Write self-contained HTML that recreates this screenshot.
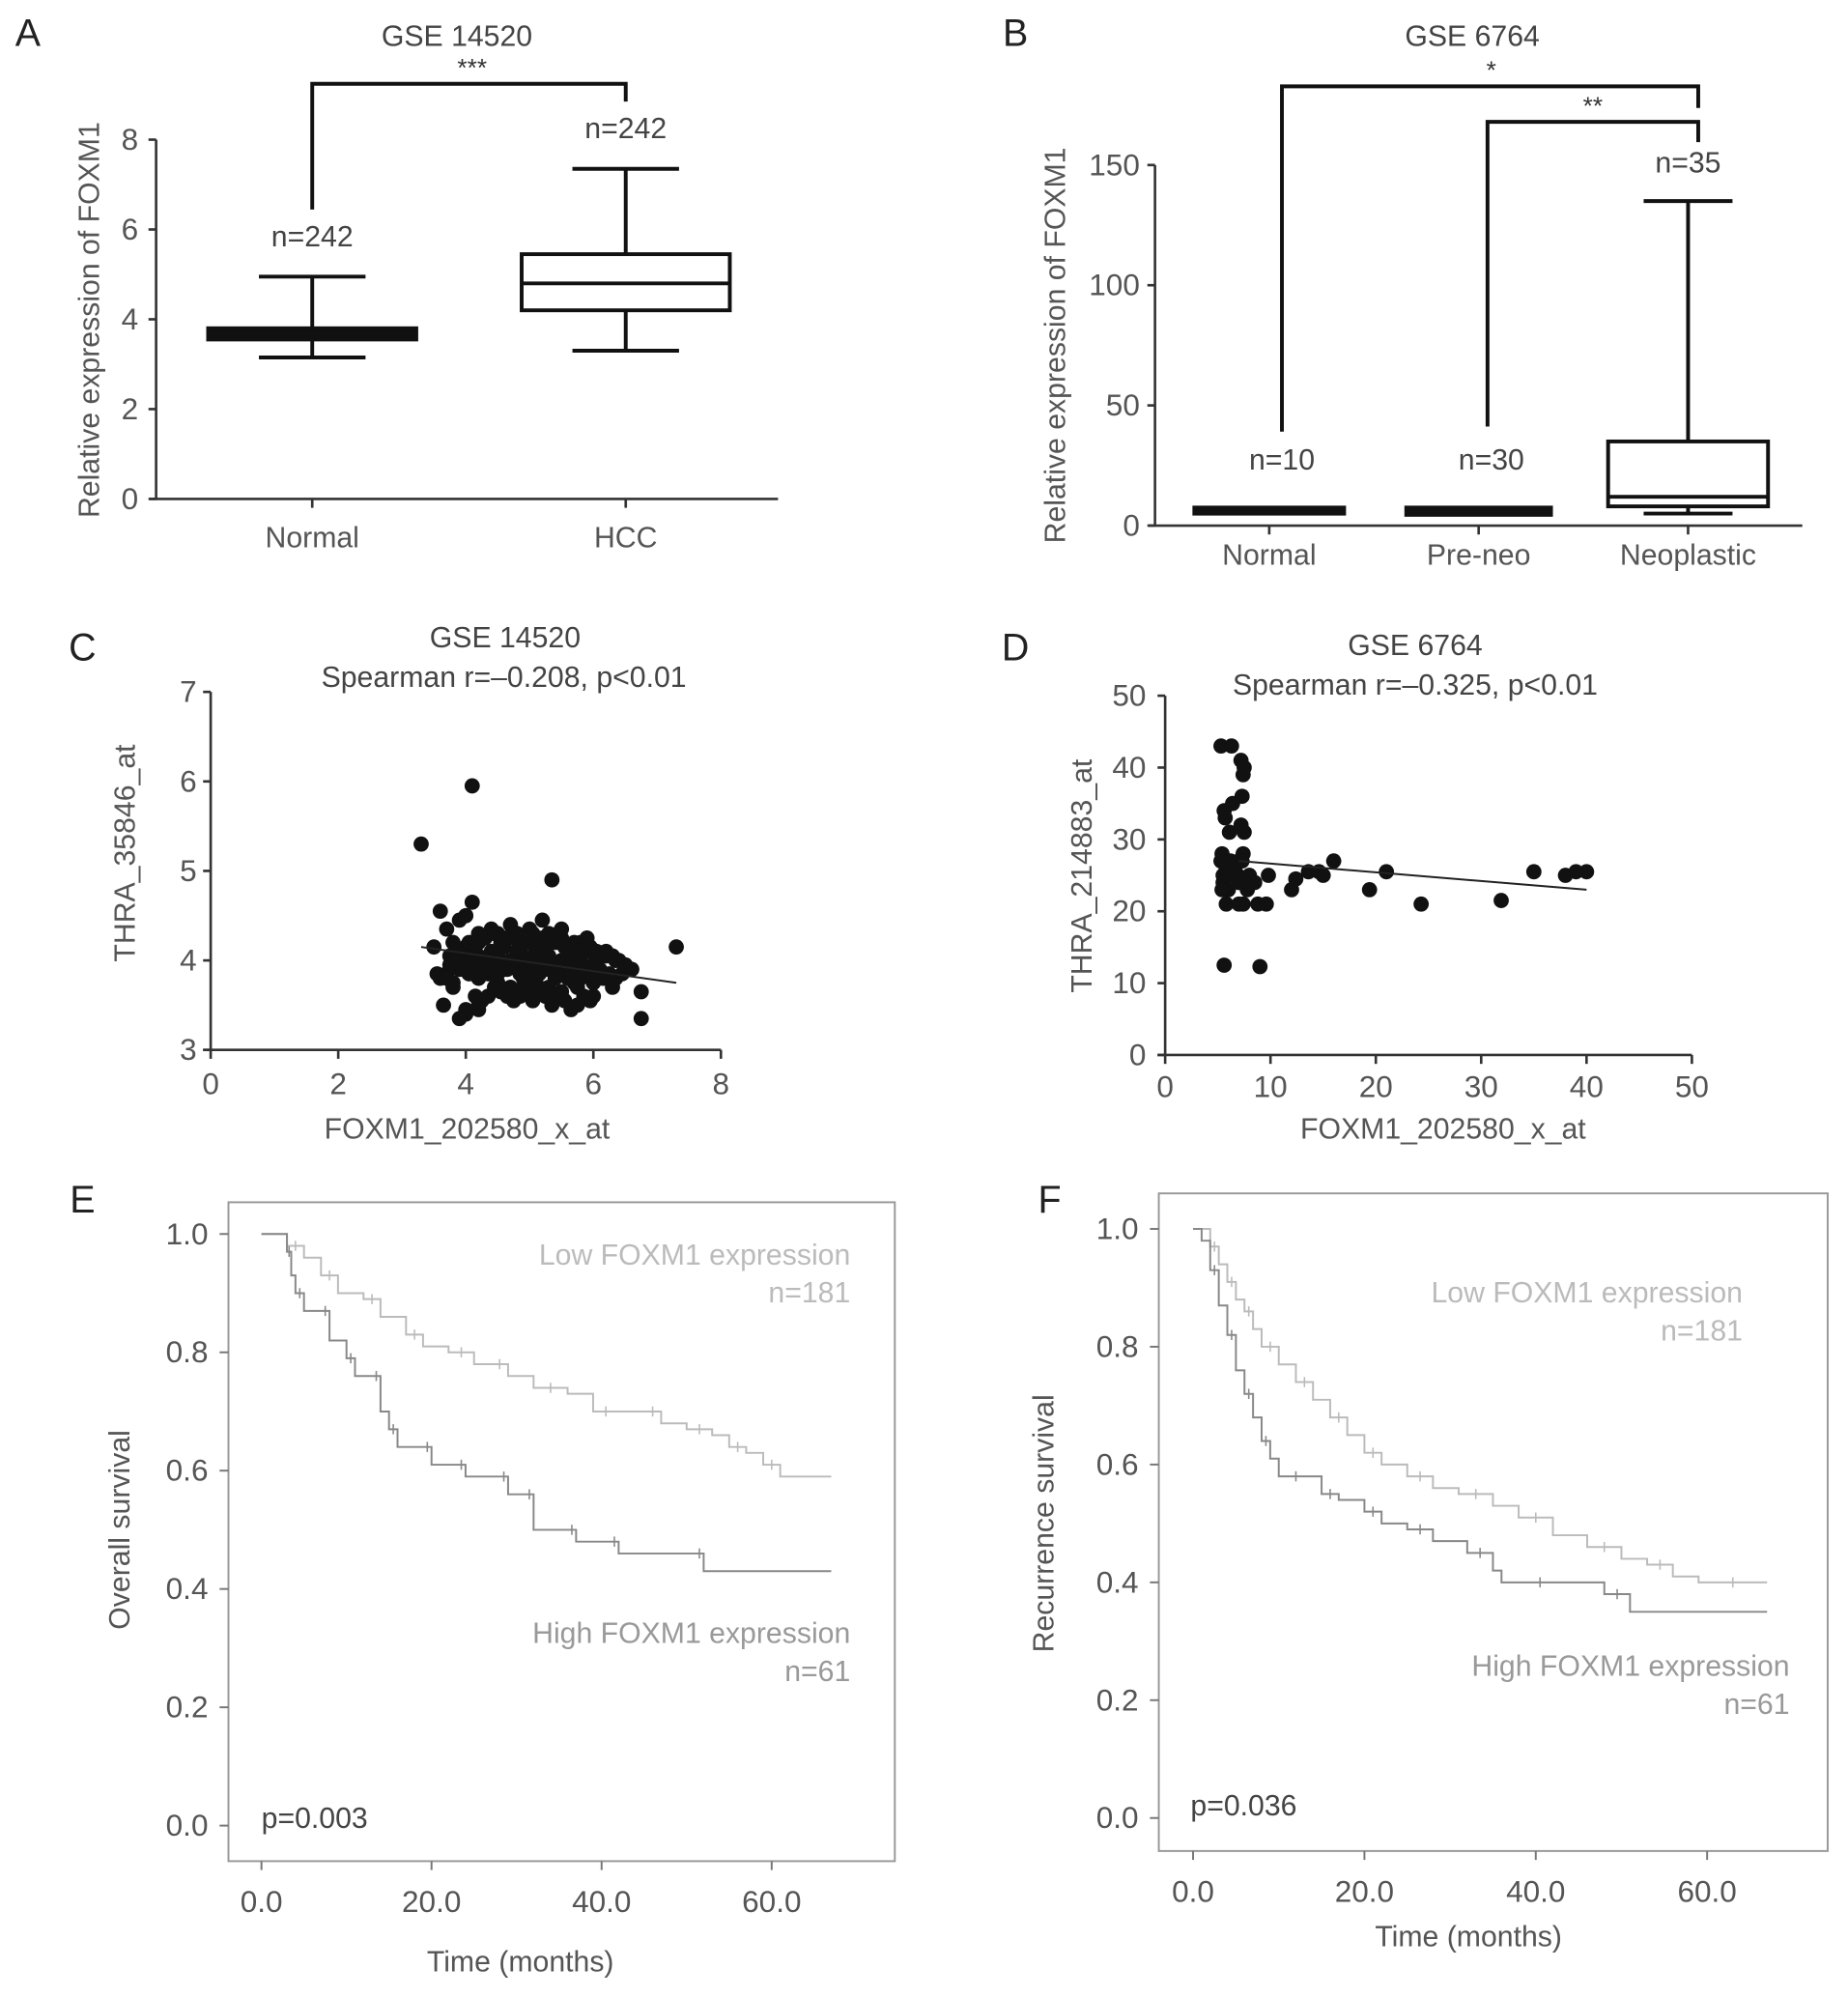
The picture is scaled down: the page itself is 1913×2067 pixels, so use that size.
<!DOCTYPE html>
<html><head><meta charset="utf-8"><style>
html,body{margin:0;padding:0;background:#fff}
svg{display:block}
text{font-family:"Liberation Sans",Arial,sans-serif}
</style></head><body>
<svg id="fig" width="1913" height="2067" viewBox="0 0 1456 1573" preserveAspectRatio="none" xmlns="http://www.w3.org/2000/svg"></svg>
<script>
// ---- Panel A data ----
const aCats = ["Normal","HCC"];
const aN = ["n=242","n=242"];
const aMin = [3.15,3.3], aQ1=[3.55,4.2], aMed=[3.68,4.8], aQ3=[3.8,5.45], aMax=[4.95,7.35];
const aTicks = [0,2,4,6,8];
// ---- Panel B data ----
const bCats = ["Normal","Pre-neo","Neoplastic"];
const bN = ["n=10","n=30","n=35"];
const bMin=[5.5,5,5], bQ1=[5.5,5,8], bMed=[6.5,6,12], bQ3=[7.5,7,35], bMax=[7.5,7.5,135];
const bTicks=[0,50,100,150];
// ---- Panel C data ----
const cTicksX=[0,2,4,6,8], cTicksY=[3,4,5,6,7];
const cX=[3.3,4.1,5.35,7.3,3.5,3.6,3.7,3.8,3.9,4.0,4.1,4.2,4.3,4.4,4.5,4.6,4.7,4.8,4.9,5.0,5.1,5.2,5.3,5.4,5.5,5.6,5.7,5.8,5.9,6.0,6.1,6.2,6.3,6.4,6.5,6.6,6.75,6.75,3.6,3.7,3.8,3.9,4.0,4.1,4.2,4.3,4.4,4.5,4.6,4.7,4.8,4.9,5.0,5.1,5.2,5.3,5.4,5.5,5.6,5.7,5.8,5.9,6.0,6.1,6.2,6.3,3.75,3.85,4.0,4.1,4.2,4.3,4.4,4.5,4.6,4.7,4.8,4.9,5.0,5.1,5.2,5.3,5.4,5.5,5.6,5.7,5.8,5.9,6.0,6.1,3.9,4.0,4.15,4.25,4.35,4.45,4.55,4.65,4.75,4.85,4.95,5.05,5.15,5.25,5.35,5.45,5.55,5.65,5.75,5.85,5.95,4.0,4.2,4.4,4.6,4.8,5.0,5.2,5.4,5.6,5.8,6.0,4.05,4.35,4.55,4.75,5.05,5.25,5.5,5.85,5.9,4.1,4.0,3.9,4.2,5.15,
3.55,3.65,3.75,3.85,3.95,4.05,4.15,4.25,4.35,4.45,4.55,4.65,4.75,4.85,4.95,5.05,5.15,5.25,5.35,5.45,5.55,5.65,5.75,5.85,5.95,6.05,6.15,6.25,6.35,6.45,3.7,3.8,3.95,4.05,4.2,4.3,4.45,4.55,4.7,4.8,4.95,5.05,5.2,5.3,5.45,5.55,5.7,5.8,5.95,6.05,6.2,6.35,6.5,6.6,4.25,4.5,4.75,5.0,5.25,5.5,5.75,6.0,4.6,4.9,5.2,5.5];
const cY=[5.3,5.95,4.9,4.15,4.15,4.55,4.35,4.2,4.45,4.5,4.65,4.3,4.25,4.35,4.3,4.25,4.4,4.3,4.2,4.35,4.25,4.15,4.3,4.2,4.25,4.15,4.0,4.2,4.25,4.1,4.05,4.1,4.05,4.0,3.95,3.9,3.65,3.35,3.8,3.85,3.7,3.9,3.95,4.0,3.8,3.9,3.85,3.75,3.9,3.7,3.95,3.8,3.85,3.75,3.9,3.7,3.8,3.85,3.8,3.75,3.8,3.9,3.75,3.85,3.8,3.7,4.05,4.1,4.15,4.1,4.05,4.0,4.1,4.05,4.15,4.0,4.1,4.05,4.0,4.1,4.0,4.05,3.95,4.0,4.05,3.95,4.0,3.9,3.95,3.9,3.95,3.9,3.6,3.55,3.6,3.7,3.65,3.6,3.55,3.6,3.65,3.55,3.65,3.6,3.5,3.6,3.55,3.45,3.5,3.6,3.55,3.45,3.5,4.0,3.95,3.95,4.0,4.0,3.9,3.95,3.9,3.9,3.85,3.85,4.2,4.25,4.2,4.15,4.2,4.15,4.1,4.2,3.4,3.35,3.45,3.65,3.85,3.5,
3.95,4.05,3.9,4.0,3.85,3.9,3.95,3.85,3.95,3.9,3.95,3.85,3.9,3.95,3.85,3.9,3.95,3.85,3.9,3.85,3.95,3.9,3.85,3.9,3.8,3.85,3.8,3.85,3.8,3.75,4.1,4.2,4.2,4.25,4.3,4.2,4.25,4.3,4.2,4.3,4.25,4.2,4.3,4.15,4.2,4.1,4.15,4.1,4.05,4.0,3.95,3.9,3.9,3.85,3.65,3.7,3.6,3.65,3.7,3.6,3.65,3.7,4.45,4.35,4.3,4.25];
// ---- Panel D data ----
const dTicksX=[0,10,20,30,40,50], dTicksY=[0,10,20,30,40,50];
const dX=[5.3,6.3,5.6,7.2,7.5,7.4,7.3,5.6,5.7,6.1,6.4,5.4,7.2,7.5,5.3,5.8,6.2,6.6,7.0,7.4,5.5,6.0,6.5,6.9,7.3,8.0,8.5,5.5,6.0,7.0,7.8,7.4,8.8,9.6,5.4,5.8,7.0,9.0,9.8,12.0,12.4,13.6,14.6,15.0,16.0,19.4,21.0,24.3,31.9,35.0,38.0,39.0,40.0];
const dY=[43,43,12.5,41,40,39,36,34,33,31,35,28,32,31,27,26,27,26,27,28,25,25,26,25,27,25,24,24,23,24,23,21,21,21,23,21,21,12.3,25,23,24.5,25.5,25.5,25,27,23,25.5,21,21.5,25.5,25,25.5,25.5];
const dLine=[7,27,40,23];
// ---- Panel E data ----
const eLowT=[0,2,3,5,7,9,12,14,17,19,22,25,27,29,32,36,39,42,45,47,50,53,55,57,59,61,67];
const eLowS=[1,1,.98,.96,.93,.90,.89,.86,.83,.81,.80,.78,.78,.76,.74,.73,.70,.70,.70,.68,.67,.66,.64,.63,.61,.59,.59];
const eHighT=[0,2,3,3.5,4,5,7,8,10,11,13,14,15,16,19,20,23,24,28,29,31,32,36,37,41,42,51,52,67];
const eHighS=[1,1,.97,.93,.90,.87,.87,.82,.79,.76,.76,.70,.67,.64,.64,.61,.61,.59,.59,.56,.56,.50,.50,.48,.48,.46,.46,.43,.43];
// ---- Panel F data ----
const fLowT=[0,1,2,3,4,5,6,7,8,10,12,14,16,18,20,22,25,28,31,35,38,42,46,50,53,56,59,67];
const fLowS=[1,1,.97,.94,.91,.88,.86,.83,.80,.77,.74,.71,.68,.65,.62,.60,.58,.56,.55,.53,.51,.48,.46,.44,.43,.41,.40,.40];
const fHighT=[0,1,2,3,4,5,6,7,8,9,10,14,15,17,20,22,25,28,32,35,36,45,48,51,67];
const fHighS=[1,.98,.93,.87,.82,.76,.72,.68,.64,.61,.58,.58,.55,.54,.52,.50,.49,.47,.45,.42,.40,.40,.38,.35,.35];
const kmTicksX=[0,20,40,60], kmTicksY=[0,0.2,0.4,0.6,0.8,1.0];

const NS="http://www.w3.org/2000/svg";
const svg=document.getElementById('fig');
function el(tag,attrs,parent){const e=document.createElementNS(NS,tag);for(const k in attrs)e.setAttribute(k,attrs[k]);(parent||svg).appendChild(e);return e;}
function txt(s,x,y,size,fill,anchor,parent){const t=el('text',{x:x,y:y,'font-size':size,fill:fill||'#333','text-anchor':anchor||'middle'},parent);t.textContent=s;return t;}
function lin(x1,y1,x2,y2,w,c,parent){return el('line',{x1:x1,y1:y1,x2:x2,y2:y2,stroke:c||'#222','stroke-width':w||2},parent);}
function scale(d0,d1,r0,r1){return v=>r0+(v-d0)*(r1-r0)/(d1-d0);}
const FS=23;

// ======== Panel A ========
{const g=el('g',{});


const y=scale(0,8,393,110), xc=[246,493];
let t=txt('A',22,36,30,'#222','middle',g);


t=txt('GSE 14520',360,36,FS,'#444','middle',g);


lin(123,110,123,393,2,'#333',g);lin(118,393,613,393,2,'#333',g);
aTicks.forEach(v=>{lin(117,y(v),123,y(v),2,'#333',g);const tt=txt(String(v),109,y(v)+8,FS+1,'#555','end',g);

});
t=txt('Relative expression of FOXM1',0,0,FS,'#555','middle',g);t.setAttribute('transform','translate(78,252) rotate(-90)');


aCats.forEach((c,i)=>{const x=xc[i];lin(x,393,x,400,2,'#333',g);
const l=txt(c,x,431,FS,'#555','middle',g);


const b=el('g',{},g);


lin(x,y(aMin[i]),x,y(aQ1[i]),3,'#111',b);lin(x,y(aQ3[i]),x,y(aMax[i]),3,'#111',b);
lin(x-42,y(aMin[i]),x+42,y(aMin[i]),3,'#111',b);lin(x-42,y(aMax[i]),x+42,y(aMax[i]),3,'#111',b);
const filled=(y(aQ1[i])-y(aQ3[i]))<15;
el('rect',{x:x-82,y:y(aQ3[i]),width:164,height:y(aQ1[i])-y(aQ3[i]),fill:filled?'#111':'#fff',stroke:'#111','stroke-width':3},b);
lin(x-82,y(aMed[i]),x+82,y(aMed[i]),3,'#111',b);
const n=txt(aN[i],x,y(aMax[i])-24,FS,'#444','middle',g);

});
const br=el('path',{d:'M246,165 V66 H493 V80',fill:'none',stroke:'#111','stroke-width':3},g);


t=txt('***',372,60,20,'#333','middle',g);

}

// ======== Panel B ========
{const g=el('g',{});


const y=scale(0,150,414,130), xc=[1000,1165,1330], hw=[59,57,63];
let t=txt('B',800,36,30,'#222','middle',g);


t=txt('GSE 6764',1160,36,FS,'#444','middle',g);


lin(910,130,910,414,2,'#333',g);lin(905,414,1420,414,2,'#333',g);
bTicks.forEach(v=>{lin(904,y(v),910,y(v),2,'#333',g);const tt=txt(String(v),898,y(v)+8,FS+1,'#555','end',g);

});
t=txt('Relative expression of FOXM1',0,0,FS,'#555','middle',g);t.setAttribute('transform','translate(839,272) rotate(-90)');


bCats.forEach((c,i)=>{const x=xc[i];lin(x,414,x,421,2,'#333',g);
const l=txt(c,x,445,FS,'#555','middle',g);


const b=el('g',{},g);


const w=hw[i];
if(i<2){el('rect',{x:x-w,y:y(bMax[i]),width:2*w,height:y(bMin[i])-y(bMax[i])+1,fill:'#111',stroke:'#111','stroke-width':3},b);}
else{lin(x,y(bMin[i]),x,y(bQ1[i]),3,'#111',b);lin(x,y(bQ3[i]),x,y(bMax[i]),3,'#111',b);
lin(x-35,y(bMin[i]),x+35,y(bMin[i]),3,'#111',b);lin(x-35,y(bMax[i]),x+35,y(bMax[i]),3,'#111',b);
el('rect',{x:x-w,y:y(bQ3[i]),width:2*w,height:y(bQ1[i])-y(bQ3[i]),fill:'#fff',stroke:'#111','stroke-width':3},b);
lin(x-w,y(bMed[i]),x+w,y(bMed[i]),3,'#111',b);}
const ny=i<2?370:136;
const n=txt(bN[i],x+(i<2?10:0),ny,FS,'#444','middle',g);

});
let br=el('path',{d:'M1010,340 V68 H1338 V85',fill:'none',stroke:'#111','stroke-width':3},g);


br=el('path',{d:'M1172,336 V96 H1338 V112',fill:'none',stroke:'#111','stroke-width':3},g);


t=txt('*',1175,62,20,'#333','middle',g);


t=txt('**',1255,90,20,'#333','middle',g);

}

// ======== Panel C ========
{const g=el('g',{});


const x=scale(0,8,166,568), y=scale(3,7,827,545);
let t=txt('C',65,520,30,'#222','middle',g);


t=txt('GSE 14520',398,510,FS,'#444','middle',g);


t=txt('Spearman r=\u20130.208, p<0.01',397,541,FS,'#444','middle',g);


lin(166,545,166,827,2,'#333',g);lin(160,827,568,827,2,'#333',g);
cTicksY.forEach(v=>{lin(160,y(v),166,y(v),2,'#333',g);const tt=txt(String(v),155,y(v)+8,FS+1,'#555','end',g);

});
cTicksX.forEach(v=>{lin(x(v),827,x(v),834,2,'#333',g);const tt=txt(String(v),x(v),862,FS+1,'#555','middle',g);

});
t=txt('FOXM1_202580_x_at',368,897,FS,'#555','middle',g);


t=txt('THRA_35846_at',0,0,FS,'#555','middle',g);t.setAttribute('transform','translate(106,672) rotate(-90)');


cX.forEach((v,i)=>{const p=el('circle',{cx:x(v),cy:y(cY[i]),r:6,fill:'#111'},g);

});
const r=lin(x(3.3),y(4.15),x(7.3),y(3.75),1.5,'#222',g);

}

// ======== Panel D ========
{const g=el('g',{});


const x=scale(0,50,918,1333), y=scale(0,50,831,548);
let t=txt('D',800,520,30,'#222','middle',g);


t=txt('GSE 6764',1115,516,FS,'#444','middle',g);


t=txt('Spearman r=\u20130.325, p<0.01',1115,547,FS,'#444','middle',g);


lin(918,548,918,831,2,'#333',g);lin(912,831,1333,831,2,'#333',g);
dTicksY.forEach(v=>{lin(912,y(v),918,y(v),2,'#333',g);const tt=txt(String(v),903,y(v)+8,FS+1,'#555','end',g);

});
dTicksX.forEach(v=>{lin(x(v),831,x(v),838,2,'#333',g);const tt=txt(String(v),x(v),864,FS+1,'#555','middle',g);

});
t=txt('FOXM1_202580_x_at',1137,897,FS,'#555','middle',g);


t=txt('THRA_214883_at',0,0,FS,'#555','middle',g);t.setAttribute('transform','translate(860,690) rotate(-90)');


dX.forEach((v,i)=>{const p=el('circle',{cx:x(v),cy:y(dY[i]),r:6,fill:'#111'},g);

});
const r=lin(x(dLine[0]),y(dLine[1]),x(dLine[2]),y(dLine[3]),1.5,'#222',g);

}

// ======== KM panels ========
function km(o){const g=el('g',{});


const x=scale(0,60,o.x0,o.x60), y=scale(0,1,o.y0,o.y1);
let t=txt(o.id.toUpperCase(),o.lx,o.ly,30,'#222','middle',g);


const fr=el('rect',{x:o.fx,y:o.fy,width:o.fw,height:o.fh,fill:'none',stroke:'#999','stroke-width':1.5},g);


kmTicksY.forEach(v=>{lin(o.fx-7,y(v),o.fx,y(v),1.5,'#777',g);const tt=txt(v.toFixed(1),o.fx-16,y(v)+8,FS+1,'#555','end',g);

});
kmTicksX.forEach(v=>{lin(x(v),o.fy+o.fh,x(v),o.fy+o.fh+7,1.5,'#777',g);const tt=txt(v.toFixed(1),x(v),o.fy+o.fh+40,FS+1,'#555','middle',g);

});
t=txt('Time (months)',o.xtx,o.xty,FS,'#555','middle',g);


t=txt(o.ytitle,0,0,FS,'#555','middle',g);t.setAttribute('transform','translate('+o.ytx+','+o.yty+') rotate(-90)');


function step(T,S,col,name){let d='M'+x(T[0])+','+y(S[0]);for(let i=1;i<T.length;i++){d+=' H'+x(T[i])+' V'+y(S[i]);}
const p=el('path',{d:d,fill:'none',stroke:col,'stroke-width':1.5},g);


for(let i=2;i<T.length-1;i+=2){const cx=x((T[i]+T[i+1])/2),cy=y(S[i]);lin(cx,cy-4,cx,cy+4,1.2,col,g);}}
step(o.lowT,o.lowS,'#bbb','low-expression-curve-'+o.id);
step(o.highT,o.highS,'#888','high-expression-curve-'+o.id);
o.labels.forEach(L=>{const tt=txt(L[0],L[1],L[2],FS,L[3],'end',g);

});
t=txt(o.p,o.px,o.py,FS,'#444','start',g);

}

km({id:'e',x0:206,x60:608,y0:1438,y1:972,lx:65,ly:955,fx:180,fy:947,fw:525,fh:519,xtx:410,xty:1553,ytitle:'Overall survival',ytx:102,yty:1205,
lowT:eLowT,lowS:eLowS,highT:eHighT,highS:eHighS,p:'p=0.003',px:206,py:1440,
labels:[['Low FOXM1 expression',670,996,'#bbb'],['n=181',670,1026,'#bbb'],['High FOXM1 expression',670,1294,'#999'],['n=61',670,1324,'#999']]});
km({id:'f',x0:940,x60:1345,y0:1432,y1:968,lx:827,ly:955,fx:913,fy:940,fw:527,fh:518,xtx:1157,xty:1533,ytitle:'Recurrence survival',ytx:830,yty:1200,
lowT:fLowT,lowS:fLowS,highT:fHighT,highS:fHighS,p:'p=0.036',px:938,py:1430,
labels:[['Low FOXM1 expression',1373,1026,'#bbb'],['n=181',1373,1056,'#bbb'],['High FOXM1 expression',1410,1320,'#999'],['n=61',1410,1350,'#999']]});
</script>
</body></html>
